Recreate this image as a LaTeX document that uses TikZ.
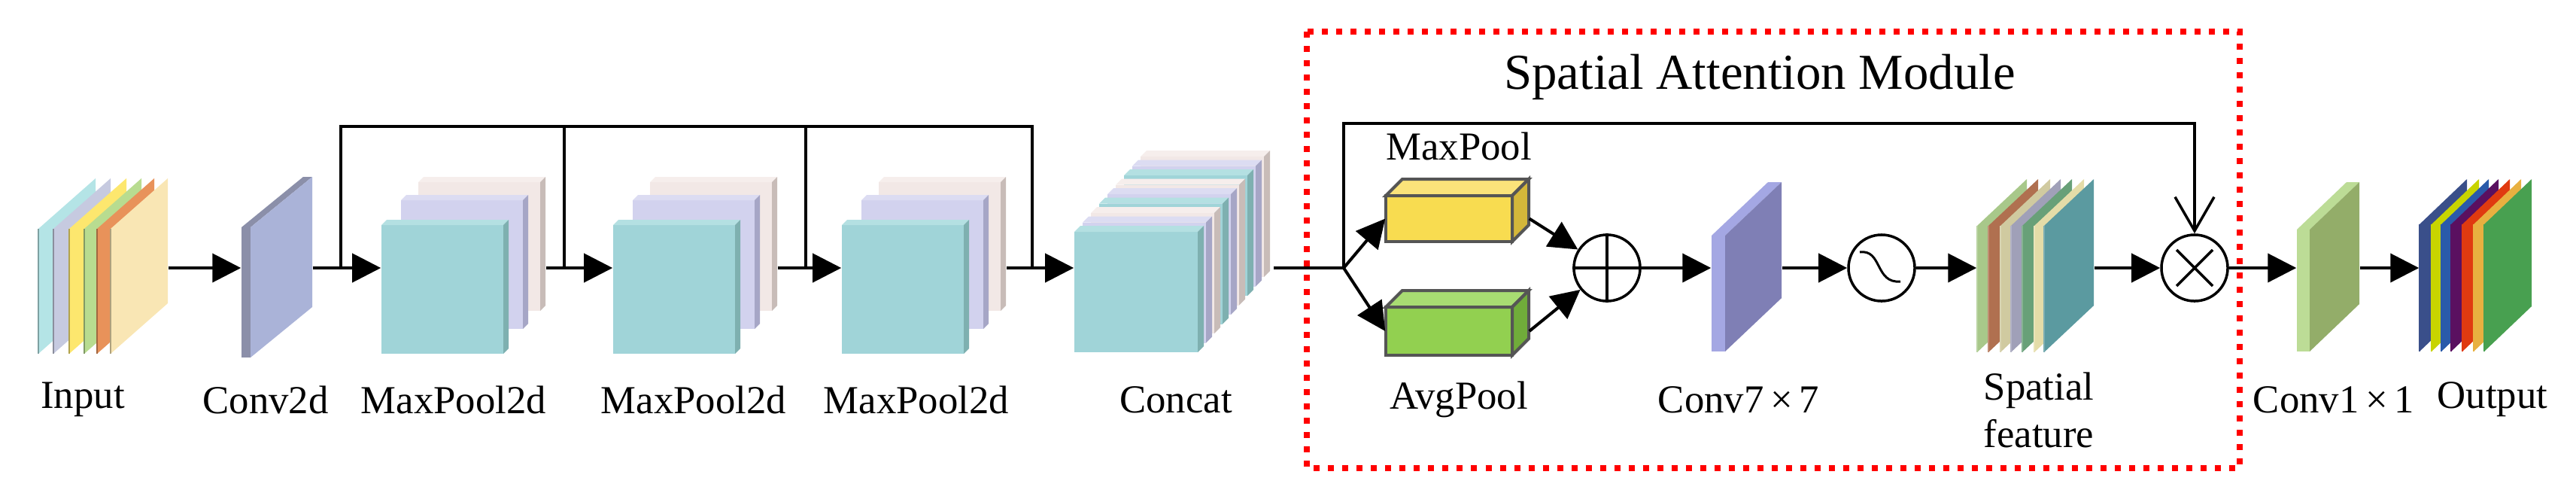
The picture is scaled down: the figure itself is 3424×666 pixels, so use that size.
\documentclass[tikz,border=0pt]{standalone}
\usepackage{fontspec}
\setmainfont{Liberation Serif}
\usetikzlibrary{arrows.meta,calc}

\definecolor{inA}{HTML}{B4E4E6}
\definecolor{inB}{HTML}{C6CAE0}
\definecolor{inC}{HTML}{FDE76E}
\definecolor{inD}{HTML}{B8DC90}
\definecolor{inE}{HTML}{E8925A}
\definecolor{inF}{HTML}{F9E6B4}
\definecolor{convF}{HTML}{AAB3D8}
\definecolor{convS}{HTML}{8B8FA9}
\definecolor{tealF}{HTML}{A0D4D8}
\definecolor{tealT}{HTML}{B4E0E2}
\definecolor{tealS}{HTML}{7EB0B0}
\definecolor{lavF}{HTML}{D2D2EE}
\definecolor{lavT}{HTML}{DCDCF2}
\definecolor{lavS}{HTML}{A6A6C6}
\definecolor{beigeF}{HTML}{F2E8E6}
\definecolor{beigeT}{HTML}{F6EEEC}
\definecolor{beigeS}{HTML}{C8BCB8}
\definecolor{maxF}{HTML}{F8DC50}
\definecolor{maxT}{HTML}{FAE37A}
\definecolor{maxS}{HTML}{D4B73A}
\definecolor{avgF}{HTML}{92D050}
\definecolor{avgT}{HTML}{A8DC72}
\definecolor{avgS}{HTML}{70AC3A}
\definecolor{boxline}{HTML}{555555}
\definecolor{c7F}{HTML}{7F7FB5}
\definecolor{c7S}{HTML}{A4A7E3}
\definecolor{sfA}{HTML}{A8C88A}
\definecolor{sfB}{HTML}{B07050}
\definecolor{sfC}{HTML}{D0CAA0}
\definecolor{sfD}{HTML}{A0A0B8}
\definecolor{sfE}{HTML}{68A078}
\definecolor{sfF}{HTML}{E4DCA8}
\definecolor{sfG}{HTML}{5B9AA0}
\definecolor{c1F}{HTML}{93AD69}
\definecolor{c1S}{HTML}{BCDC96}
\definecolor{oA}{HTML}{3A4F8A}
\definecolor{oB}{HTML}{C8D400}
\definecolor{oC}{HTML}{2A5AAA}
\definecolor{oD}{HTML}{5A1060}
\definecolor{oE}{HTML}{E03A10}
\definecolor{oF}{HTML}{E8B040}
\definecolor{oG}{HTML}{48A050}

% thin slanted sheet: x, top, width, height, skew, fill, edge
\newcommand{\fmpanel}[7]{%
  \fill[#6] (#1,#2) -- (#1+#3,#2-#5) -- (#1+#3,#2-#5+#4) -- (#1,#2+#4) -- cycle;
  \draw[#7, line width=0.025cm] (#1,#2) -- (#1,#2+#4);}
% slanted slab with visible left side: x, top, width, height, skew, depth, front, side
\newcommand{\fmslab}[8]{%
  \fill[#8] (#1,#2) rectangle (#1+#6,#2+#4);
  \fill[#8] (#1,#2) -- (#1+#3,#2-#5) -- (#1+#3+#6,#2-#5) -- (#1+#6,#2) -- cycle;
  \fill[#7] (#1+#6,#2) -- (#1+#6+#3,#2-#5) -- (#1+#6+#3,#2-#5+#4) -- (#1+#6,#2+#4) -- cycle;}
% box: x, top, width, height, depth, front, top, side, extra
\newcommand{\fmcube}[9]{%
  \path[fill=#6,#9] (#1,#2) rectangle (#1+#3,#2+#4);
  \path[fill=#7,#9] (#1,#2) -- (#1+#5,#2-#5) -- (#1+#3+#5,#2-#5) -- (#1+#3,#2) -- cycle;
  \path[fill=#8,#9] (#1+#3,#2) -- (#1+#3+#5,#2-#5) -- (#1+#3+#5,#2+#4-#5) -- (#1+#3,#2+#4) -- cycle;}

\begin{document}
\begin{tikzpicture}[x=0.01cm, y=-0.01cm, >={Triangle[length=0.38cm,width=0.38cm]},
  lbl/.style={font=\fontsize{15}{18}\selectfont, align=center},
  blk/.style={inner sep=0pt, minimum height=2.3cm},
  conn/.style={line width=0.04cm},
  op/.style={draw, circle, line width=0.035cm, minimum size=0.88cm, inner sep=0pt}]
  \useasboundingbox (0,0) rectangle (3424,666);

  % feature maps
  \foreach \x/\c in {51/inA,71/inB,92/inC,112/inD,129/inE,147/inF}{
    \fmpanel{\x}{304}{76}{166}{67}{\c}{\c!70!black}
  }
  \node[blk, minimum width=1.72cm] (in) at (137,356) {};

  \fmslab{321}{302}{82}{173}{67}{12}{convF}{convS}
  \node[blk, minimum width=0.94cm] (conv) at (368,356) {};

  \foreach \x/\n in {507/mp1,815/mp2,1119/mp3}{
    \fmcube{\x+49}{242}{162}{171}{7}{beigeF}{beigeT}{beigeS}{}
    \fmcube{\x+26}{266}{162}{171}{7}{lavF}{lavT}{lavS}{}
    \fmcube{\x}{299}{162}{171}{7}{tealF}{tealT}{tealS}{}
    \node[blk, minimum width=2.18cm] (\n) at (\x+109,356) {};
  }

  \foreach \k/\cc in {8/beige,7/lav,6/teal,5/beige,4/lav,3/teal,2/beige,1/lav,0/teal}{
    \fmcube{1428+11*\k}{308-12.5*\k}{164}{160}{8}{\cc F}{\cc T}{\cc S}{}
  }
  \node[blk, minimum width=2.64cm] (cat) at (1560,356) {};

  % attention module
  \fmcube{1842}{260}{168}{61}{22}{maxF}{maxT}{maxS}{draw=boxline, line width=0.04cm}
  \node[blk, minimum width=1.9cm, minimum height=0.61cm] (maxb) at (1937,290.5) {};
  \fmcube{1842}{408}{168}{64}{22}{avgF}{avgT}{avgS}{draw=boxline, line width=0.04cm}
  \node[blk, minimum width=1.9cm, minimum height=0.64cm] (avgb) at (1937,440) {};

  \node[op] (add) at (2136,356) {};
  \draw[line width=0.035cm] (add.north) -- (add.south) (add.west) -- (add.east);

  \fmslab{2275}{313}{75}{154}{71}{18}{c7F}{c7S}
  \node[blk, minimum width=0.93cm] (c7) at (2321.5,356) {};

  \node[op] (sig) at (2501,356) {};
  \draw[line width=0.03cm] ($(sig)+(-29,-21)$) .. controls ($(sig)+(1,-25)$) and ($(sig)+(-9,21)$) .. ($(sig)+(25,18)$);

  \foreach \x/\c in {2628/sfA,2643/sfB,2659/sfC,2673/sfD,2688/sfE,2704/sfF,2717/sfG}{
    \fmpanel{\x}{300}{66}{168}{62}{\c}{\c!80!white}
  }
  \node[blk, minimum width=1.55cm] (sf) at (2705.5,356) {};

  \node[op] (mul) at (2917,356) {};
  \draw[line width=0.035cm] ($(mul)+(-24,-24)$) -- ($(mul)+(24,24)$)
    ($(mul)+(-24,24)$) -- ($(mul)+(24,-24)$);

  \fmslab{3053}{305}{66}{162}{63}{17}{c1F}{c1S}
  \node[blk, minimum width=0.83cm] (c1) at (3094.5,356) {};

  \foreach \x/\c in {3216/oA,3232/oB,3245/oC,3258/oD,3273/oE,3288/oF,3302/oG}{
    \fmpanel{\x}{298}{63}{169}{60}{\c}{\c}
  }
  \node[blk, minimum width=1.49cm] (out) at (3290.5,356) {};

  % connections
  \coordinate (j1) at (453,356);
  \coordinate (j2) at (750,356);
  \coordinate (j3) at (1071,356);
  \coordinate (j4) at (1372,356);
  \coordinate (bus) at (0,168);
  \coordinate (br) at (1786,356);

  \draw[conn,->] (in) -- (conv);
  \draw[conn,->] (conv) -- (mp1);
  \draw[conn,->] (mp1) -- (mp2);
  \draw[conn,->] (mp2) -- (mp3);
  \draw[conn,->] (mp3) -- (cat);
  \draw[conn] (j1) -- (j1 |- bus) -| (j4);
  \draw[conn] (j2) -- (j2 |- bus);
  \draw[conn] (j3) -- (j3 |- bus);

  \draw[conn] (cat) -- (br);
  \draw[conn,->] (br) -- (maxb.west);
  \draw[conn,->] (br) -- (avgb.west);
  \draw[line width=0.035cm, -{Straight Barb[length=0.45cm,width=0.52cm,line width=0.035cm]}]
    (br) -- ++(0,-192) -| (mul.north);
  \draw[conn,->] (maxb.east) -- (add);
  \draw[conn,->] (avgb.east) -- (add);
  \draw[conn,->] (add) -- (c7);
  \draw[conn,->] (c7) -- (sig);
  \draw[conn,->] (sig) -- (sf);
  \draw[conn,->] (sf) -- (mul);
  \draw[conn,->] (mul) -- (c1);
  \draw[conn,->] (c1) -- (out);

  % labels
  \node[lbl] (lin) at (110,531) {Input};
  \node[lbl] (lconv) at (353,531) {Conv2d};
  \node[lbl] (lmp1) at (603,531) {MaxPool2d};
  \node[lbl] (lmp2) at (922,531) {MaxPool2d};
  \node[lbl] (lmp3) at (1218,531) {MaxPool2d};
  \node[lbl] (lcat) at (1563,531) {Concat};
  \node[lbl] (lmax) at (1939,194) {MaxPool};
  \node[lbl] (lavg) at (1939,531) {AvgPool};
  \node[lbl] (lc7) at (2311,531) {Conv7\,×\,7};
  \node[lbl] (lsf) at (2710,545) {Spatial\\feature};
  \node[lbl] (lc1) at (3102,531) {Conv1\,×\,1};
  \node[lbl] (lout) at (3313,531) {Output};

  \draw[red, line width=0.08cm, dash pattern=on 0.08cm off 0.11cm] (1737,42) rectangle (2977,622);
  \node[font=\fontsize{19}{22}\selectfont] (title) at (2339,102) {Spatial Attention Module};
\end{tikzpicture}
\end{document}
